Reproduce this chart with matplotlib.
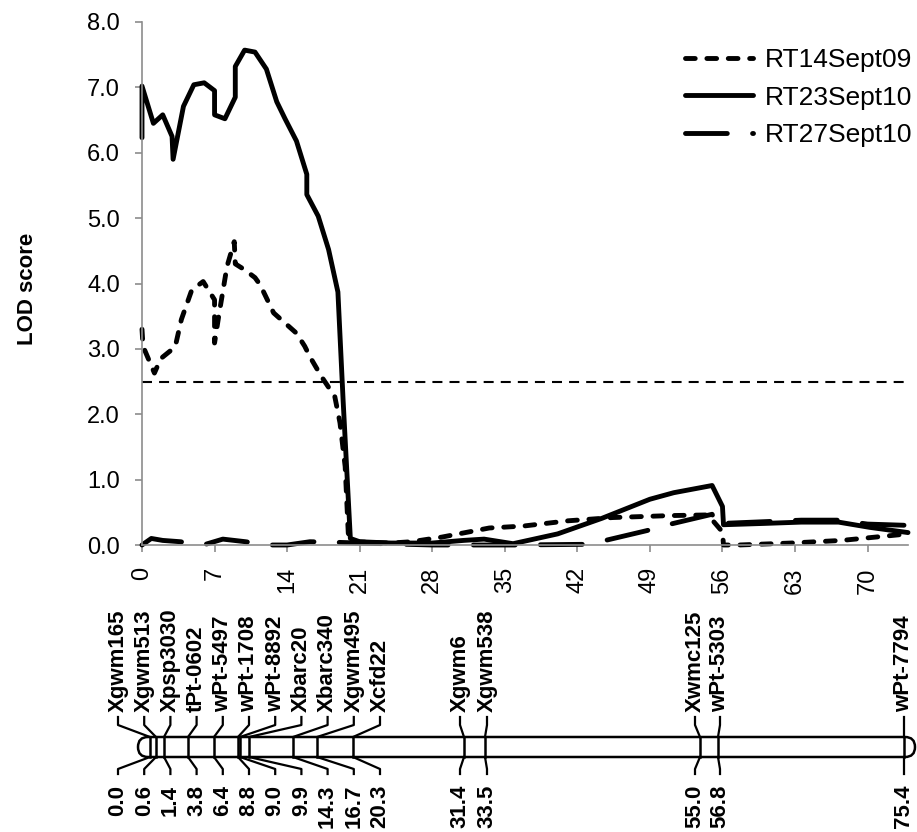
import matplotlib
matplotlib.use("Agg")
import matplotlib.pyplot as plt
from matplotlib.patches import FancyBboxPatch

plt.rcParams['font.family'] = ['Liberation Sans', 'DejaVu Sans']

# LOD profiles along the chromosome: position (cM) and LOD score
pos_sep09 = [0, 0.1, 1.2, 1.8, 3.2, 3.8, 4.8, 5.9, 7.0, 7.0, 7.4, 8.2, 8.9, 9.0, 9.9, 10.9,
             11.4, 12.7, 14.9, 15.7, 16.2, 17.3, 18.6, 19.1, 19.6, 19.9, 20.3, 24.0, 26.0,
             28.9, 31.2, 33.5, 36.8, 41.1, 45.4, 51.0, 54.6, 56.0, 56.1, 57.6, 62.6, 67.5, 73.9]
lod_sep09 = [3.30, 3.04, 2.63, 2.85, 3.03, 3.45, 3.90, 4.03, 3.75, 3.09, 3.50, 4.26, 4.64, 4.30,
             4.21, 4.09, 3.98, 3.55, 3.24, 3.04, 2.88, 2.58, 2.27, 1.87, 1.20, 0.18, 0.05, 0.03,
             0.05, 0.12, 0.19, 0.26, 0.29, 0.37, 0.42, 0.45, 0.46, 0.20, 0.00, 0.00, 0.03, 0.07, 0.17]

pos_sep10a = [0, 0, 1.1, 2.0, 2.9, 3.0, 4.0, 5.0, 6.0, 7.0, 7.0, 8.0, 9.0, 9.0, 9.9, 10.9,
              12.0, 13.0, 13.8, 14.9, 15.9, 15.9, 17.0, 18.0, 18.9, 19.4, 20.1, 21.0, 24.0,
              28.0, 31.0, 33.0, 35.8, 40.1, 44.4, 49.0, 51.3, 55.0, 56.0, 56.1, 60.0, 63.6,
              67.2, 70.2, 73.9]
lod_sep10a = [6.23, 7.02, 6.45, 6.58, 6.25, 5.90, 6.71, 7.04, 7.07, 6.95, 6.58, 6.52, 6.85,
              7.32, 7.57, 7.54, 7.28, 6.78, 6.52, 6.18, 5.67, 5.36, 5.03, 4.52, 3.87, 2.22,
              0.10, 0.05, 0.03, 0.03, 0.07, 0.09, 0.02, 0.17, 0.41, 0.70, 0.80, 0.91, 0.59,
              0.31, 0.33, 0.35, 0.35, 0.27, 0.19]

pos_sep10b = [0, 0.9, 2.0, 3.7, 5.9, 7.8, 10.0, 12.0, 14.0, 16.2, 19.0, 21.0, 28.0, 33.0,
              36.0, 42.5, 44.7, 48.7, 51.0, 55.0, 55.6, 56.0, 63.6, 67.2, 70.0, 73.9]
lod_sep10b = [0.00, 0.10, 0.07, 0.05, 0.00, 0.09, 0.05, 0.00, 0.00, 0.05, 0.04, 0.03, 0.00,
              0.00, 0.00, 0.01, 0.07, 0.22, 0.32, 0.47, 0.27, 0.33, 0.38, 0.38, 0.32, 0.30]

threshold = 2.5

# linkage map
marker_names = ['Xgwm165', 'Xgwm513', 'Xpsp3030', 'tPt-0602', 'wPt-5497', 'wPt-1708',
                'wPt-8892', 'Xbarc20', 'Xbarc340', 'Xgwm495', 'Xcfd22', 'Xgwm6', 'Xgwm538',
                'Xwmc125', 'wPt-5303', 'wPt-7794']
marker_cm = [0.0, 0.6, 1.4, 3.8, 6.4, 8.8, 9.0, 9.9, 14.3, 16.7, 20.3, 31.4, 33.5,
             55.0, 56.8, 75.4]

# spread-out slots for the marker labels (cM)
label_cm = [-3.2 + 2.62 * i for i in range(11)] + [31.0, 33.7, 54.5, 57.0, 75.4]

W, H = 917, 832
fig = plt.figure(figsize=(W / 100, H / 100), dpi=100)

ax = fig.add_axes([142 / W, 1 - 545 / H, 766 / W, 523 / H])
lw = 3.5
ax.plot(pos_sep09, lod_sep09, color='black', lw=lw, ls=(0, (2.0, 2.4)),
        dash_capstyle='round', solid_joinstyle='round', clip_on=False, label='RT14Sept09')
ax.plot(pos_sep10a, lod_sep10a, color='black', lw=lw, solid_capstyle='round',
        solid_joinstyle='round', clip_on=False, label='RT23Sept10')
ax.plot(pos_sep10b, lod_sep10b, color='black', lw=lw, ls=(0, (8.6, 5.2)),
        dash_capstyle='round', clip_on=False, label='RT27Sept10')
ax.axhline(threshold, color='black', lw=1.5, ls=(0, (4.8, 3.4)))

ax.set_xlim(0, 73.9)
ax.set_ylim(0, 8)
ax.set_xticks(range(0, 71, 7))
ax.set_yticks(range(0, 9))
ax.set_yticklabels([f'{v:.1f}' for v in range(0, 9)])
for s in ['top', 'right']:
    ax.spines[s].set_visible(False)
for s in ['left', 'bottom']:
    ax.spines[s].set_color('#8c8c8c')
    ax.spines[s].set_linewidth(1.2)
ax.tick_params(axis='both', colors='#8c8c8c', labelcolor='black', length=5,
               width=1.2, labelsize=17, pad=11)
ax.tick_params(axis='x', labelrotation=90)

ax.set_ylabel('LOD score', fontsize=16, fontweight='bold')
ax.yaxis.set_label_coords(-0.136, 0.49)

ax.legend(loc='upper left', bbox_to_anchor=(685 / W, 1 - 48 / H),
          bbox_transform=fig.transFigure, frameon=False, borderpad=0,
          borderaxespad=0, fontsize=19, handlelength=2.58, handletextpad=0.45,
          labelspacing=0.52)

# chromosome drawn at 10 px per cM, y in the same units
cax = fig.add_axes([0, 0, 1, 242 / H])
cax.set_xlim(-15.0, 76.7)
cax.set_ylim(24.2, 0)
cax.axis('off')

top, bot = 14.7, 16.7
body = FancyBboxPatch((-1.2, top), 77.7, bot - top,
                      boxstyle='round,pad=0,rounding_size=1.0',
                      fc='white', ec='black', lw=1.8)
cax.add_patch(body)

for name, cm, lab in zip(marker_names, marker_cm, label_cm):
    cax.plot([cm, cm], [top, bot], color='black', lw=1.8)
    cax.plot([cm, lab, lab], [top, 13.5, 12.7], color='black', lw=1.6)
    cax.plot([cm, lab, lab], [bot, 17.9, 18.4], color='black', lw=1.6)
    cax.text(lab, 12.2, name, rotation=90, ha='center', va='bottom',
             fontsize=16, fontweight='bold')
    cax.text(lab, 19.5, f'{cm:.1f}', rotation=90, ha='center', va='top',
             fontsize=16, fontweight='bold')

fig.savefig('out.png', dpi=100)
